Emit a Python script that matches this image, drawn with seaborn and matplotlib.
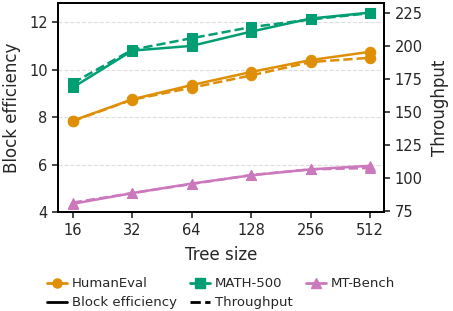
import numpy as np
import pandas as pd
import matplotlib
matplotlib.use('Agg')
import matplotlib.pyplot as plt
from matplotlib.lines import Line2D
import seaborn as sns

tree_sizes = [16, 32, 64, 128, 256, 512]
datasets = ['HumanEval', 'MATH-500', 'MT-Bench']

# block efficiency (left axis)
be_humaneval = [7.85, 8.75, 9.35, 9.9, 10.4, 10.75]
be_math = [9.25, 10.8, 11.0, 11.6, 12.15, 12.4]
be_mtbench = [4.35, 4.8, 5.2, 5.55, 5.8, 5.95]

# throughput (right axis)
tp_humaneval = [143.2, 159.4, 168.5, 177.8, 187.9, 191.2]
tp_math = [172.0, 197.3, 206.0, 214.4, 220.2, 225.0]
tp_mtbench = [81.4, 88.6, 95.5, 102.3, 106.6, 107.6]

colors = ['#DE8F05', '#029E73', '#CC78BC']
markers = ['o', 's', '^']

be_all = [be_humaneval, be_math, be_mtbench]
tp_all = [tp_humaneval, tp_math, tp_mtbench]

sns.set_style('ticks')
plt.rcParams['font.family'] = ['DejaVu Sans']

fig = plt.figure(figsize=(4.53, 3.11), dpi=100)
ax = fig.add_axes([0.128, 0.318, 0.72, 0.672])
ax2 = ax.twinx()

for name, be, tp, c, m in zip(datasets, be_all, tp_all, colors, markers):
    sns.lineplot(x=tree_sizes, y=be, ax=ax, color=c, marker=m, markersize=7.5,
                 markeredgecolor=c, linewidth=1.8, linestyle='-')
    sns.lineplot(x=tree_sizes, y=tp, ax=ax2, color=c, marker=m, markersize=7.5,
                 markeredgecolor=c, linewidth=1.8, linestyle='--')

ax.set_xscale('log', base=2)
ax.set_xticks(tree_sizes)
ax.set_xticklabels([str(t) for t in tree_sizes])
ax.minorticks_off()
ax.set_xlim(13.45, 604)
ax.set_ylim(4, 12.8)
ax.set_yticks([4, 6, 8, 10, 12])
ax2.set_ylim(74.2, 232.6)
ax2.set_yticks([75, 100, 125, 150, 175, 200, 225])

ax.yaxis.grid(True, linestyle='--', color='#dddddd', linewidth=0.8)
ax.set_axisbelow(True)

ax.set_xlabel('Tree size', fontsize=12, labelpad=6)
ax.set_ylabel('Block efficiency', fontsize=12, labelpad=6)
ax2.set_ylabel('Throughput', fontsize=12, labelpad=6)
for a in (ax, ax2):
    a.tick_params(labelsize=10.5, length=4, width=1.2)
    for s in a.spines.values():
        s.set_linewidth(1.3)
        s.set_color('black')

handles = [
    Line2D([], [], color=colors[0], marker=markers[0], markersize=6.5, linewidth=2),
    Line2D([], [], color='black', linewidth=2, linestyle='-'),
    Line2D([], [], color=colors[1], marker=markers[1], markersize=6.5, linewidth=2),
    Line2D([], [], color='black', linewidth=2, linestyle='--'),
    Line2D([], [], color=colors[2], marker=markers[2], markersize=6.5, linewidth=2),
]
labels = ['HumanEval', 'Block efficiency', 'MATH-500', 'Throughput', 'MT-Bench']
fig.legend(handles, labels, ncol=3, loc='lower left', bbox_to_anchor=(0.08, -0.028),
           frameon=False, fontsize=9.5, handlelength=1.5, handletextpad=0.4,
           columnspacing=1.0, labelspacing=0.45, borderpad=0.3)

fig.savefig('out.png', dpi=100)
